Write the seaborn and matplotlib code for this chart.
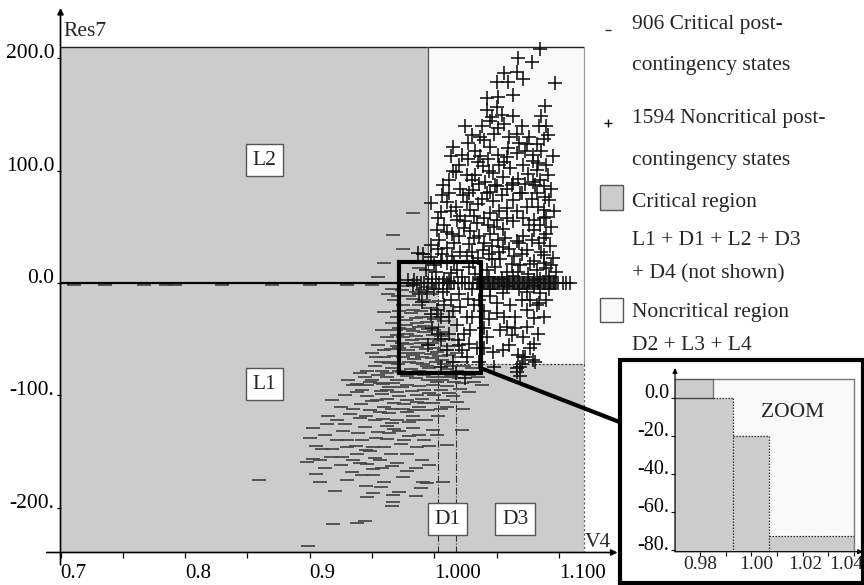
import matplotlib
matplotlib.use("Agg")
import matplotlib.pyplot as plt
import matplotlib.transforms as mtransforms
import pandas as pd
import seaborn as sns
from matplotlib.patches import Rectangle, Polygon
from matplotlib.lines import Line2D

# ---------------- post-contingency states: (V4, Res7) ----------------
critical_deep = [
    (0.899, -234), (0.919, -215), (0.938, -214), (0.944, -212), (0.967, -189),
    (0.967, -195), (0.966, -199), (0.946, -191), (0.951, -187), (0.989, -183),
    (0.991, -177), (0.994, -178), (1.007, -177), (0.908, -177), (0.920, -185),
    (0.859, -175), (0.951, -171), (0.960, -177), (0.934, -168), (0.945, -181),
    (0.975, -173), (0.912, -165), (0.930, -175), (0.942, -171), (0.957, -182),
    (0.972, -186), (0.985, -190), (0.905, -170),
]
critical_mid = [
    (0.898, -159), (0.903, -157), (0.900, -138), (0.903, -129), (0.914, -126),
    (0.928, -126), (0.927, -132), (0.922, -140), (0.930, -146), (0.938, -152),
    (0.951, -146), (0.962, -139), (0.973, -143), (0.986, -146), (0.978, -152),
    (0.965, -152), (0.956, -158), (0.946, -161), (0.951, -166), (0.910, -148),
    (0.917, -155), (0.925, -162), (0.942, -140), (0.955, -133), (0.968, -130),
    (0.980, -136), (0.992, -140), (0.999, -131), (1.002, -135), (1.010, -144),
    (1.022, -131), (0.983, -129), (0.972, -132), (0.948, -150), (0.939, -134),
    (0.958, -165), (0.990, -158), (0.970, -160), (0.912, -135), (0.905, -145),
    (0.944, -128), (0.960, -146), (0.985, -165), (0.935, -158), (0.962, -127),
    (0.930, -140), (0.937, -145), (0.945, -149), (0.953, -138), (0.964, -134),
    (0.976, -140), (0.988, -135), (0.996, -145), (0.918, -148), (0.908, -158),
    (0.926, -155), (0.940, -160), (0.952, -156), (0.966, -163), (0.978, -167),
    (0.996, -162),
]
critical_core = [
    (0.940, -120), (0.948, -113), (0.956, -115), (0.964, -116), (0.978, -115),
    (0.988, -110), (0.999, -107), (1.007, -104), (1.015, -101), (1.023, -112),
    (0.938, -97), (0.946, -101), (0.954, -104), (0.962, -103), (0.972, -101),
    (0.978, -104), (0.986, -100), (0.996, -98), (1.005, -95), (0.935, -91),
    (0.946, -91), (0.956, -89), (0.967, -89), (0.978, -91), (0.988, -92),
    (0.999, -91), (1.010, -92), (1.021, -94), (1.038, -91), (0.950, -86),
    (0.931, -86), (0.970, -122), (0.959, -121), (0.983, -122), (0.925, -110),
    (0.932, -117), (0.960, -110), (0.968, -107), (0.975, -112), (0.983, -118),
    (0.993, -122), (1.003, -118), (0.990, -103), (1.000, -100), (0.962, -95),
    (0.970, -97), (0.982, -96), (0.992, -95), (1.012, -98), (1.028, -97),
    (0.918, -104), (0.928, -100), (0.941, -108), (0.952, -122), (0.966, -125),
    (0.980, -124), (0.995, -113), (1.010, -110), (0.957, -96), (0.974, -93),
    (0.986, -106), (1.002, -88), (1.016, -88), (0.942, -95), (0.915, -118),
    (0.922, -122), (0.935, -112), (0.945, -118), (0.950, -105), (0.958, -99),
    (0.966, -112), (0.976, -108), (0.984, -113), (0.992, -107), (1.005, -112),
    (1.018, -106),
]
critical_box = [
    (0.955, -82), (0.962, -84), (0.970, -86), (0.978, -83), (0.985, -85),
    (0.992, -82), (0.999, -84), (1.006, -86), (1.013, -83), (1.020, -85),
    (1.028, -82), (0.958, -78), (0.966, -76), (0.974, -79), (0.981, -77),
    (0.988, -78), (0.996, -76), (1.003, -79), (1.010, -77), (1.018, -78),
    (0.962, -80), (0.964, -71), (0.971, -72), (0.980, -70), (0.986, -71),
    (0.994, -74), (1.001, -70), (1.008, -72), (1.015, -70), (1.024, -74),
    (0.960, -66), (0.968, -65), (0.975, -66), (0.983, -64), (0.990, -66),
    (0.997, -63), (1.004, -65), (1.012, -64), (1.020, -66), (0.965, -59),
    (0.972, -58), (0.979, -60), (0.986, -57), (0.993, -59), (1.000, -58),
    (1.008, -60), (1.016, -56), (0.967, -52), (0.974, -53), (0.982, -51),
    (0.989, -53), (0.996, -50), (1.004, -52), (1.011, -50), (0.970, -46),
    (0.978, -45), (0.985, -47), (0.992, -44), (0.999, -46), (1.007, -44),
    (0.972, -40), (0.980, -41), (0.988, -39), (0.995, -41), (1.003, -39),
    (0.948, -88), (0.944, -84), (0.952, -74), (0.957, -70), (1.032, -88),
    (1.025, -80), (0.940, -80), (0.950, -62), (0.955, -55), (0.962, -48),
    (0.958, -42), (0.974, -6), (0.980, -12), (0.975, -20), (0.983, -24),
    (0.977, -33), (0.986, -36), (0.970, -30), (0.990, -30), (0.996, -22),
    (1.002, -28), (1.008, -34), (0.992, -15), (0.985, -8), (0.998, -10),
    (1.004, -16), (0.968, -15), (0.972, -25), (0.979, -3), (0.988, -20),
    (0.994, -35), (1.000, -32), (0.966, -36), (0.993, -4), (0.960, -26),
    (0.963, -10), (0.968, -70), (0.976, -62), (0.984, -68), (0.991, -72),
    (0.998, -67), (1.006, -69), (1.013, -74), (1.022, -70), (0.970, -56),
    (0.978, -54), (0.987, -62), (0.995, -55), (1.002, -61), (1.010, -56),
    (1.018, -62), (0.975, -48), (0.983, -43), (0.990, -50), (0.998, -53),
    (1.005, -47), (0.969, -42), (0.977, -37), (0.985, -31), (0.992, -38),
    (1.000, -42), (0.981, -27), (0.989, -25), (0.997, -30), (0.971, -12),
    (0.983, -14), (0.990, -6), (0.996, -17), (0.966, -5), (0.960, -60),
    (0.953, -66), (0.946, -78), (0.938, -90), (0.959, -90), (0.964, -93),
    (0.972, -78), (0.986, -80), (0.995, -86), (1.010, -84), (1.022, -89),
    (1.030, -76), (1.035, -84),
]
critical_upper = [
    (0.983, 62), (0.967, 43), (0.991, 26), (0.988, 13), (0.975, 30),
    (0.955, 5), (0.960, 18),
]
critical_axis = [
    (0.711, -2), (0.736, -2), (0.767, -2), (0.785, -2), (0.792, -2),
    (0.830, -2), (0.870, -2), (0.900, -2), (0.930, -2), (0.950, -2),
]

noncritical_upper = [
    (1.085, 208), (1.078, 197), (1.067, 200), (1.097, 178), (1.056, 187),
    (1.066, 188), (1.071, 182), (1.050, 179), (1.059, 179), (1.042, 165),
    (1.051, 166), (1.063, 167), (1.089, 158), (1.086, 149), (1.042, 154),
    (1.050, 157), (1.054, 150), (1.063, 149), (1.045, 144), (1.025, 140),
    (1.070, 140), (1.051, 138), (1.091, 132), (1.030, 132), (1.037, 130),
    (1.015, 121), (1.027, 125), (1.045, 121), (1.059, 120), (1.074, 124),
    (1.082, 124), (1.013, 113), (1.022, 114), (1.037, 113), (1.051, 114),
    (1.066, 116), (1.079, 114), (1.095, 113), (1.017, 99), (1.026, 96),
    (1.039, 104), (1.047, 98), (1.061, 102), (1.071, 105), (1.082, 101),
    (1.091, 96), (1.007, 87), (1.021, 84), (1.031, 83), (1.045, 81),
    (1.050, 86), (1.062, 87), (1.070, 80), (1.079, 90), (1.082, 80),
    (1.089, 77), (1.006, 78), (1.049, 87), (1.063, 89), (1.081, 87),
    (1.023, 78), (1.042, 80), (1.054, 78), (1.069, 80), (1.092, 74),
    (0.997, 71), (1.013, 64), (1.029, 65), (1.045, 62), (1.058, 67),
    (1.074, 68), (1.088, 65), (1.003, 58), (1.018, 56), (1.034, 53),
    (1.050, 56), (1.080, 56), (1.090, 59), (1.002, 47), (1.014, 44),
    (1.029, 46), (1.045, 44), (1.066, 37), (1.080, 47), (1.090, 44),
    (0.997, 34), (1.010, 31), (1.021, 28), (1.039, 29), (1.053, 21),
    (1.074, 29), (1.088, 25), (0.987, 27), (0.997, 23), (1.010, 18),
    (1.031, 19), (1.042, 12), (1.069, 16), (1.082, 12), (1.090, 13),
    (1.001, 10), (1.018, 12), (0.979, 3), (0.984, 3), (0.991, 26),
    (1.013, 9), (1.033, 118), (1.040, 127), (1.048, 133), (1.035, 108),
    (1.043, 110), (1.056, 108), (1.083, 107), (1.086, 118), (1.088, 128),
    (1.076, 130), (1.079, 109), (1.068, 125), (1.030, 92), (1.036, 88),
    (1.055, 94), (1.067, 93), (1.075, 97), (1.085, 92), (1.012, 92),
    (1.020, 105), (1.010, 72), (1.026, 72), (1.035, 70), (1.047, 73),
    (1.063, 74), (1.078, 75), (1.094, 84), (1.005, 63), (1.021, 60),
    (1.040, 58), (1.055, 48), (1.063, 55), (1.071, 58), (1.085, 52),
    (1.094, 50), (1.008, 52), (1.024, 49), (1.036, 42), (1.051, 38),
    (1.060, 30), (1.071, 42), (1.084, 36), (1.093, 33), (1.004, 38),
    (1.016, 36), (1.028, 35), (1.046, 33), (1.064, 24), (1.080, 20),
    (1.095, 22), (1.006, 26), (1.026, 24), (1.035, 22), (1.049, 14),
    (1.058, 10), (1.075, 8), (1.092, 6), (1.000, 16), (1.022, 5),
    (1.033, 8), (1.044, 5), (1.063, 6), (1.085, 4), (0.993, 12),
    (1.008, 4), (1.016, 18), (1.040, 36), (1.057, 40), (1.048, 50),
    (1.032, 60), (1.038, 140), (1.046, 148), (1.056, 142), (1.060, 130),
    (1.066, 133), (1.084, 140), (1.090, 140), (1.044, 100), (1.052, 105),
    (1.058, 112), (1.073, 118), (1.090, 105), (1.027, 110), (1.015, 100),
    (1.033, 96), (1.041, 90), (1.058, 84), (1.073, 88), (1.088, 86),
    (1.012, 80), (1.028, 80), (1.038, 75), (1.052, 64), (1.066, 64),
    (1.083, 68), (1.096, 64), (1.017, 68), (1.025, 55), (1.043, 52),
    (1.058, 58), (1.076, 52), (1.088, 58), (1.010, 45), (1.020, 42),
    (1.032, 40), (1.044, 26), (1.055, 32), (1.068, 36), (1.078, 38),
    (1.088, 40), (1.003, 30), (1.014, 24), (1.030, 28), (1.052, 28),
    (1.070, 26), (1.086, 28), (1.094, 16), (1.028, 14), (1.037, 4),
    (1.054, 4), (1.067, 10), (1.080, 3), (1.098, 10), (1.005, 20),
    (1.012, 2), (0.998, 4), (1.046, 21), (1.062, 17), (1.077, 17),
    (1.088, 18),
]
noncritical_lower = [
    (0.990, -17), (1.002, -24), (1.013, -15), (1.021, -21), (1.026, -30),
    (1.018, -37), (1.029, -42), (1.019, -51), (1.034, -58), (1.026, -66),
    (1.047, -61), (1.042, -48), (1.053, -42), (1.058, -39), (1.050, -27),
    (1.061, -20), (1.045, -12), (1.055, -9), (1.074, -8), (1.085, -9),
    (1.077, -15), (1.082, -20), (1.074, -24), (1.080, -31), (1.074, -39),
    (1.071, -48), (1.080, -54), (1.067, -64), (1.073, -66), (1.081, -70),
    (1.066, -76), (1.069, -83), (1.066, -79), (1.069, -75), (1.071, -66),
    (1.079, -69), (1.007, -8), (0.994, -8), (0.998, -40), (1.005, -50),
    (1.010, -60), (1.015, -70), (1.005, -30), (0.995, -55), (1.012, -45),
    (1.020, -10), (1.030, -5), (1.036, -15), (1.040, -25), (1.032, -20),
    (1.010, -5), (1.000, -5), (1.028, -54), (1.022, -60), (1.036, -70),
    (1.048, -75), (1.060, -55), (1.065, -30), (1.088, -30), (1.090, -15),
    (0.983, -2), (0.988, -10), (1.015, -25), (1.024, -45), (1.040, -40),
    (1.017, -80), (1.025, -85), (1.005, -75), (1.045, -5), (1.058, -3),
    (1.068, -5), (1.080, -3), (1.092, -5), (1.050, -18), (1.070, -15),
    (1.084, -18), (1.044, -32), (1.056, -30), (1.062, -46), (1.055, -60),
    (1.040, -58), (1.030, -30), (1.020, -55), (1.012, -30), (1.003, -45),
    (1.008, -20), (0.997, -28), (1.027, -14), (1.065, -40), (1.077, -58),
    (1.083, -45), (1.070, -72),
]
# noncritical states lying exactly on Res7 = 0
noncritical_zero_v4 = [
    0.986, 0.989, 0.992, 0.995, 0.998, 1.001, 1.004, 1.007, 1.010, 1.013,
    1.016, 1.019, 1.022, 1.025, 1.028, 1.031, 1.034, 1.035, 1.036, 1.037,
    1.038, 1.039, 1.040, 1.041, 1.042, 1.043, 1.044, 1.045, 1.046, 1.047,
    1.048, 1.049, 1.050, 1.051, 1.052, 1.053, 1.054, 1.055, 1.056, 1.057,
    1.058, 1.059, 1.060, 1.061, 1.062, 1.063, 1.064, 1.065, 1.066, 1.067,
    1.068, 1.069, 1.070, 1.071, 1.072, 1.073, 1.074, 1.075, 1.076, 1.077,
    1.078, 1.079, 1.080, 1.081, 1.082, 1.083, 1.084, 1.085, 1.086, 1.087,
    1.088, 1.089, 1.090, 1.091, 1.092, 1.093, 1.094, 1.095, 1.096, 1.097,
    1.098, 1.099, 1.103, 1.106, 1.109,
]

# axis ticks
x_ticks = [0.7, 0.75, 0.8, 0.85, 0.9, 0.95, 1.0, 1.05, 1.1]
x_tick_labels = ["0.7", "", "0.8", "", "0.9", "", "1.000", "", "1.100"]
y_ticks = [200, 100, 0, -100, -200]
y_tick_labels = ["200.0", "100.0", "0.0", "-100.", "-200."]
zoom_x_ticks = [0.98, 0.99, 1.00, 1.01, 1.02, 1.03, 1.04]
zoom_x_label_pos = {"0.98": 0.98, "1.00": 1.0021, "1.02": 1.0210, "1.04": 1.0370}
zoom_y_ticks = [0, -20, -40, -60, -80]
zoom_y_tick_labels = ["0.0", "-20.", "-40.", "-60.", "-80."]

# region boundaries (main view)
noncritical_region = [(0.995, 210), (1.12, 210), (1.12, -72), (1.017, -72),
                      (1.017, -20), (1.0027, -20), (1.0027, 0), (0.995, 0)]
# region boundaries (zoom view)
zoom_noncritical_region = [(0.985, 9.7), (1.04, 9.7), (1.04, -72.6), (1.007, -72.6),
                           (1.007, -20), (0.993, -20), (0.993, 0), (0.985, 0)]

GRAY = "#cccccc"
LIGHT = "#f9f9f9"
FS = 15.5

sns.set_theme(style="white")
plt.rcParams["font.family"] = ["Liberation Serif", "DejaVu Serif"]

W, H = 864, 585
fig = plt.figure(figsize=(W / 100, H / 100), dpi=100, facecolor="white")


def fx(px):
    return px / W


def fy(py):
    return 1 - py / H


# ---------------- main view ----------------
ax = fig.add_axes([fx(46.8), fy(552.5), (617.5 - 46.8) / W, (552.5 - 7.9) / H])
ax.set_facecolor("white")

ax.add_patch(Rectangle((0.7, -240), 0.42, 450, fc=GRAY, ec="none", zorder=0))
ax.add_patch(Polygon(noncritical_region, closed=True, fc=LIGHT, ec="none", zorder=0.5))

# region borders
ax.plot([0.7, 1.12], [210, 210], color="#222222", lw=1.0, zorder=1)
ax.plot([0.995, 0.995], [0, 210], color="#555555", lw=0.9, zorder=1)
ax.plot([1.12, 1.12], [-72, 210], color="#9a9a9a", lw=0.9, zorder=1)
ax.plot([1.12, 1.12], [-240, -72], color="#555555", lw=0.8, ls=(0, (2, 2)), zorder=1)
ax.plot([1.017, 1.12], [-72, -72], color="#333333", lw=0.9, ls=(0, (1.5, 1.5)), zorder=1)
ax.plot([1.0027, 1.0027], [-240, 0], color="#333333", lw=0.8, ls="-.", zorder=1)
ax.plot([1.017, 1.017], [-240, -72], color="#333333", lw=0.8, ls="-.", zorder=1)

crit = pd.DataFrame(critical_deep + critical_mid + critical_core + critical_box
                    + critical_upper + critical_axis, columns=["V4", "Res7"])
noncrit = pd.DataFrame(noncritical_upper + noncritical_lower
                       + [(v, 0.0) for v in noncritical_zero_v4], columns=["V4", "Res7"])

sns.scatterplot(data=crit, x="V4", y="Res7", marker="_", s=100, color="#454545",
                linewidth=1.25, ax=ax, legend=False, zorder=3)
ax.plot([0.7, 1.04], [0, 0], color="black", lw=1.6, zorder=3.5)
sns.scatterplot(data=noncrit, x="V4", y="Res7", marker="+", s=95, color="#111111",
                linewidth=1.15, ax=ax, legend=False, zorder=4)

ax.set_xlabel("")
ax.set_ylabel("")
ax.set_xlim(0.689, 1.147)
ax.set_ylim(-240, 245)
for s in ax.spines.values():
    s.set_visible(False)
ax.spines["left"].set_position(("data", 0.7))

ax.set_xticks(x_ticks)
ax.set_xticklabels(x_tick_labels, ha="left")
ax.set_yticks(y_ticks)
ax.set_yticklabels(y_tick_labels, va="baseline")
ax.tick_params(axis="x", bottom=True, length=3.6, width=0.9, color="black",
               pad=5.0, labelsize=15, labelcolor="black")
ax.tick_params(axis="y", left=True, length=3.0, width=0.9, color="black",
               pad=1.5, labelsize=FS, labelcolor="black")
ax.grid(False)

# axis lines with arrowheads
ax.annotate("", xy=(1.147, -240), xytext=(0.689, -240), annotation_clip=False,
            arrowprops=dict(arrowstyle="-|>", color="black", lw=1.2,
                            mutation_scale=9, shrinkA=0, shrinkB=0))
ax.annotate("", xy=(0.7, 245), xytext=(0.7, -251), annotation_clip=False,
            arrowprops=dict(arrowstyle="-|>", color="black", lw=1.2,
                            mutation_scale=9, shrinkA=0, shrinkB=0))
ax.text(0.702, 220, "Res7", fontsize=FS, ha="left", va="baseline")
ax.text(1.1205, -235, "V4", fontsize=FS, ha="left", va="baseline")

# region labels
box_style = dict(boxstyle="square,pad=0.3", fc="white", ec="#555555", lw=1.0)
for lbl, (x, y) in {"L2": (0.8637, 109.5), "L1": (0.8637, -90),
                    "D1": (1.0108, -210.3), "D3": (1.0648, -210.3)}.items():
    ax.text(x, y, lbl, fontsize=FS, ha="center", va="center", bbox=box_style, zorder=6)

# zoom frame in the main view
ax.add_patch(Rectangle((0.9719, -80.4), 1.0373 - 0.9719, 18.3 + 80.4, fill=False,
                       ec="black", lw=3.0, zorder=7))

# ---------------- legend (figure text) ----------------
fig.add_artist(Line2D([fx(608.3)], [fy(29.5)], marker="_", ms=5, mew=1.0, color="#333333"))
fig.add_artist(Line2D([fx(608.3)], [fy(123.0)], marker="+", ms=6, mew=1.0, color="#111111"))
fig.add_artist(Rectangle((fx(600), fy(210)), 23.3 / W, 25 / H, transform=fig.transFigure,
                         fc=GRAY, ec="#555555", lw=1.0))
fig.add_artist(Rectangle((fx(600), fy(321.7)), 23.3 / W, 23.4 / H, transform=fig.transFigure,
                         fc=LIGHT, ec="#555555", lw=1.0))
legend_lines = [
    ("906 Critical post-", 29.3), ("contingency states", 70.0),
    ("1594 Noncritical post-", 122.7), ("contingency states", 165.0),
    ("Critical region", 207.3), ("L1 + D1 + L2 + D3", 245.0),
    ("+ D4 (not shown)", 278.3), ("Noncritical region", 316.7),
    ("D2 + L3 + L4", 350.0),
]
for txt, base in legend_lines:
    fig.text(fx(631.7), fy(base), txt, fontsize=FS, ha="left", va="baseline")

# ---------------- zoom view ----------------
fig.add_artist(Line2D([fx(483), fx(619.5)], [fy(369), fy(422)], color="black", lw=3.0))
fig.add_artist(Rectangle((fx(619.5), fy(583)), (863 - 619.5) / W, (583 - 360) / H,
                         transform=fig.transFigure, fill=False, ec="black", lw=3.0))

axz = fig.add_axes([fx(675), fy(551.7), 188 / W, (551.7 - 368) / H])
axz.set_xlim(0.9703, 1.0435)
axz.set_ylim(-81, 15.6)
axz.patch.set_alpha(0)
for s in axz.spines.values():
    s.set_visible(False)
axz.add_patch(Rectangle((0.9703, -81), 1.04 - 0.9703, 90.7, fc=GRAY, ec="none", zorder=0))
axz.add_patch(Polygon(zoom_noncritical_region, closed=True, fc=LIGHT, ec="none", zorder=0.5))
axz.plot([0.985, 0.985, 1.04, 1.04], [0, 9.7, 9.7, -81], color="#777777", lw=1.0, zorder=1)
axz.plot([0.9703, 0.985], [9.7, 9.7], color="#555555", lw=1.0, zorder=1)
axz.plot([0.9703, 0.985], [0, 0], color="#444444", lw=1.0, zorder=1)
dot = dict(color="#333333", lw=0.9, ls=(0, (1.2, 1.2)), zorder=1)
axz.plot([0.985, 0.993], [0, 0], **dot)
axz.plot([0.993, 0.993], [0, -81], **dot)
axz.plot([0.993, 1.007], [-20, -20], **dot)
axz.plot([1.007, 1.007], [-20, -81], **dot)
axz.plot([1.007, 1.04], [-72.6, -72.6], **dot)
axz.text(1.016, -8, "ZOOM", fontsize=FS, ha="center", va="center")

axz.set_xticks(zoom_x_ticks)
axz.set_xticklabels([""] * len(zoom_x_ticks))
label_shift = axz.transData + mtransforms.ScaledTranslation(0, -3 / 72, fig.dpi_scale_trans)
for lbl, xpos in zoom_x_label_pos.items():
    axz.text(xpos, -81, lbl, fontsize=14, ha="center", va="top", transform=label_shift)
axz.set_yticks(zoom_y_ticks)
axz.set_yticklabels(zoom_y_tick_labels, va="baseline")
axz.tick_params(axis="x", bottom=True, length=3.0, width=0.8, pad=2.0,
                labelsize=14, labelcolor="black", color="black")
axz.tick_params(axis="y", left=True, length=3.0, width=0.8, pad=1.0,
                labelsize=14.5, labelcolor="black", color="black")
axz.grid(False)
axz.annotate("", xy=(1.0435, -81), xytext=(0.9703, -81), annotation_clip=False,
             arrowprops=dict(arrowstyle="-|>", color="black", lw=0.9,
                             mutation_scale=7, shrinkA=0, shrinkB=0))
axz.annotate("", xy=(0.9703, 15.6), xytext=(0.9703, -81), annotation_clip=False,
             arrowprops=dict(arrowstyle="-|>", color="black", lw=0.9,
                             mutation_scale=7, shrinkA=0, shrinkB=0))

fig.savefig("out.png", dpi=100, facecolor="white")
